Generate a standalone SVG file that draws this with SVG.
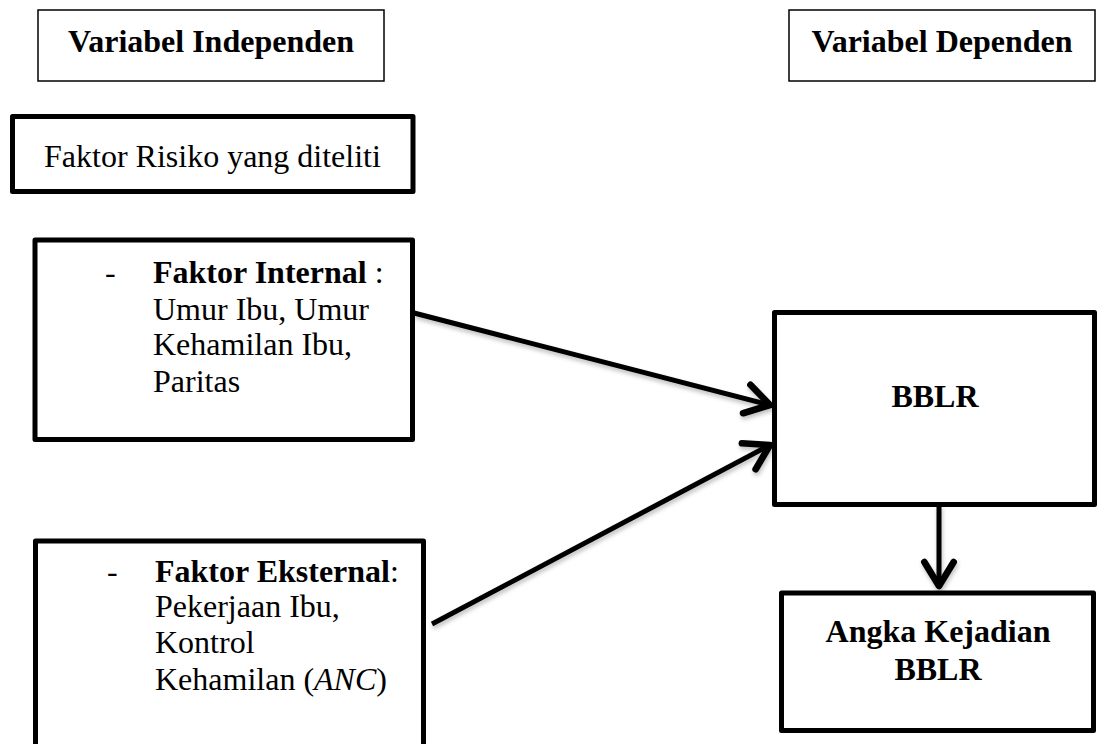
<svg xmlns="http://www.w3.org/2000/svg" width="1097" height="744" viewBox="0 0 1097 744">
<style>
  .thin { fill: #fff; stroke: #000; stroke-width: 1.5; }
  .thick { fill: #fff; stroke: #000; stroke-width: 5; stroke-linejoin: round; }
  text { font-family: "Liberation Serif", "Times New Roman", serif; font-size: 32px; fill: #000; }
  .b { font-weight: bold; }
  .conn { stroke: #000; stroke-width: 5; fill: none; marker-end: url(#arrow); }
</style>
<defs>
  <marker id="arrow" markerUnits="userSpaceOnUse" markerWidth="40" markerHeight="40" viewBox="-25 -15 30 30" refX="0" refY="0" orient="auto">
    <path d="M -18 -11 L 0 0 L -18 11" fill="none" stroke="#000" stroke-width="5" stroke-linecap="round" stroke-linejoin="round"/>
  </marker>
  <filter id="sh" x="-10%" y="-10%" width="130%" height="140%">
    <feDropShadow dx="1" dy="3" stdDeviation="2" flood-color="#000" flood-opacity="0.25"/>
  </filter>
</defs>

<g id="node-independen">
  <rect class="thin" x="38" y="10" width="346" height="71"/>
  <text class="b" x="211" y="52" text-anchor="middle">Variabel Independen</text>
</g>

<g id="node-dependen">
  <rect class="thin" x="789" y="10" width="306" height="71"/>
  <text class="b" x="942" y="52" text-anchor="middle">Variabel Dependen</text>
</g>

<g id="node-faktor-risiko">
  <rect class="thick" x="12.5" y="116.5" width="400.5" height="75"/>
  <text x="44" y="167">Faktor Risiko yang diteliti</text>
</g>

<g id="node-internal">
  <rect class="thick" x="35" y="240" width="377.5" height="199.5"/>
  <text x="105" y="283">-</text>
  <text x="153" y="283"><tspan class="b">Faktor Internal</tspan> :</text>
  <text x="153" y="320">Umur Ibu, Umur</text>
  <text x="153" y="355">Kehamilan Ibu,</text>
  <text x="153" y="392">Paritas</text>
</g>

<g id="node-eksternal">
  <rect class="thick" x="35.5" y="541" width="388" height="220"/>
  <text x="107" y="582">-</text>
  <text x="155" y="582"><tspan class="b">Faktor Eksternal</tspan>:</text>
  <text x="155" y="617">Pekerjaan Ibu,</text>
  <text x="155" y="653">Kontrol</text>
  <text x="155" y="690">Kehamilan (<tspan font-style="italic">ANC</tspan>)</text>
</g>

<g id="node-bblr">
  <rect class="thick" x="774.5" y="312.5" width="320" height="192"/>
  <text class="b" x="935" y="407" text-anchor="middle">BBLR</text>
</g>

<g id="node-angka">
  <rect class="thick" x="781.5" y="593" width="312" height="137.5"/>
  <text class="b" x="938" y="642" text-anchor="middle">Angka Kejadian</text>
  <text class="b" x="938" y="680" text-anchor="middle">BBLR</text>
</g>

<g id="connectors" filter="url(#sh)">
  <line class="conn" x1="414" y1="313" x2="770" y2="405"/>
  <line class="conn" x1="432" y1="624" x2="770" y2="445"/>
  <line class="conn" x1="939" y1="505" x2="939" y2="586"/>
</g>
</svg>
